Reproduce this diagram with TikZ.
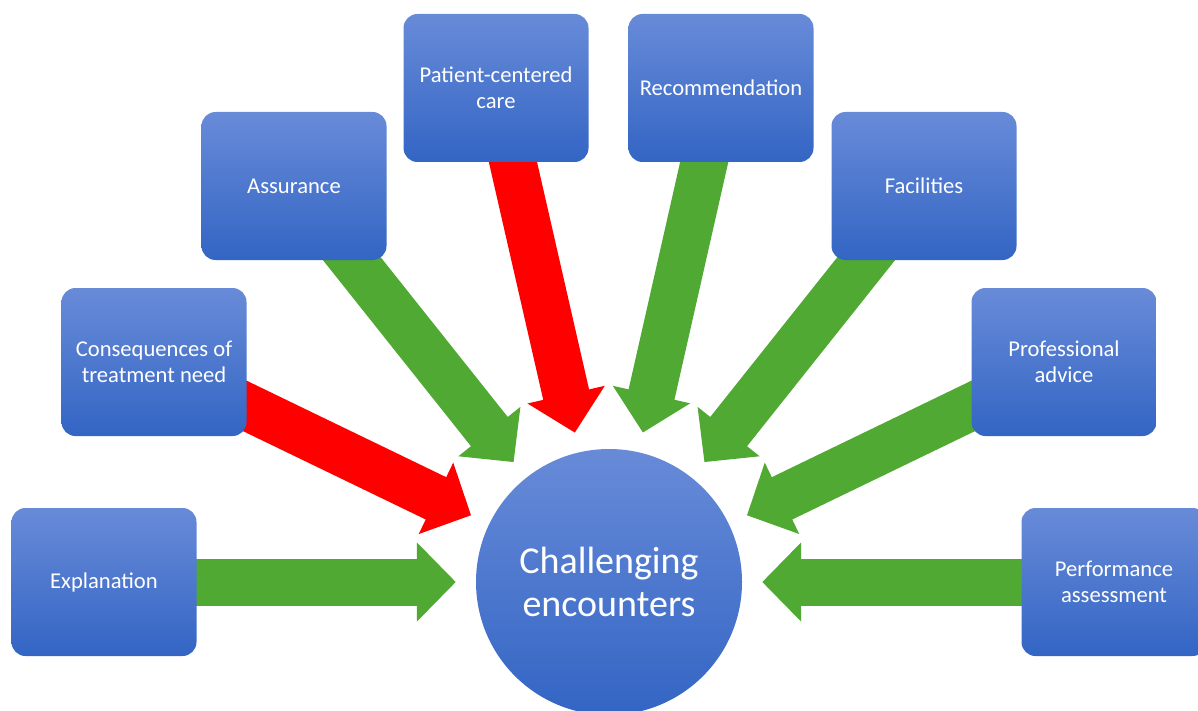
\documentclass[tikz,border=0pt]{standalone}
\usepackage{fontspec}
\setmainfont{Carlito}
\usepackage{xcolor}
\usepackage{tikz}
\usetikzlibrary{arrows.meta, positioning, backgrounds}

\definecolor{boxtop}{RGB}{104,139,216}
\definecolor{boxbottom}{RGB}{51,101,196}
\definecolor{pushgreen}{RGB}{80,169,50}
\definecolor{pushred}{RGB}{255,0,0}

\begin{document}
\begin{tikzpicture}[
    x=1pt, y=-1pt,
    every node/.style={font=\fontsize{22.6}{26}\selectfont, text=white},
    topic/.style={rounded corners=14pt, minimum width=185pt, minimum height=148pt, align=center, top color=boxtop, bottom color=boxbottom},
    hub/.style={circle, minimum size=266pt, align=center, top color=boxtop, bottom color=boxbottom, font=\fontsize{38}{43}\selectfont},
    push/.style={line width=47pt, shorten >=20pt, -{Triangle[length=39pt, width=77pt]}}
]
    \useasboundingbox (0,0) rectangle (1198,711);

    % centre and the eight factors around it
    \node[hub] (enc) at (609,582) {Challenging\\encounters};
    \node[topic] (expl) at (104,582) {Explanation};
    \node[topic] (cons) at (154,362) {Consequences of\\treatment need};
    \node[topic] (assur) at (294,186) {Assurance};
    \node[topic] (pcc) at (496,88) {Patient-centered\\care};
    \node[topic] (recom) at (721,88) {Recommendation};
    \node[topic] (facil) at (924,186) {Facilities};
    \node[topic] (prof) at (1064,362) {Professional\\advice};
    \node[topic] (perf) at (1114,582) {Performance\\assessment};

    % Arrows into the centre
    \begin{scope}[on background layer]
        \draw[push, pushgreen] (expl.center) -- (enc);
        \draw[push, pushred] (cons.center) -- (enc);
        \draw[push, pushgreen] (assur.center) -- (enc);
        \draw[push, pushred] (pcc.center) -- (enc);
        \draw[push, pushgreen] (recom.center) -- (enc);
        \draw[push, pushgreen] (facil.center) -- (enc);
        \draw[push, pushgreen] (prof.center) -- (enc);
        \draw[push, pushgreen] (perf.center) -- (enc);
    \end{scope}

\end{tikzpicture}
\end{document}
